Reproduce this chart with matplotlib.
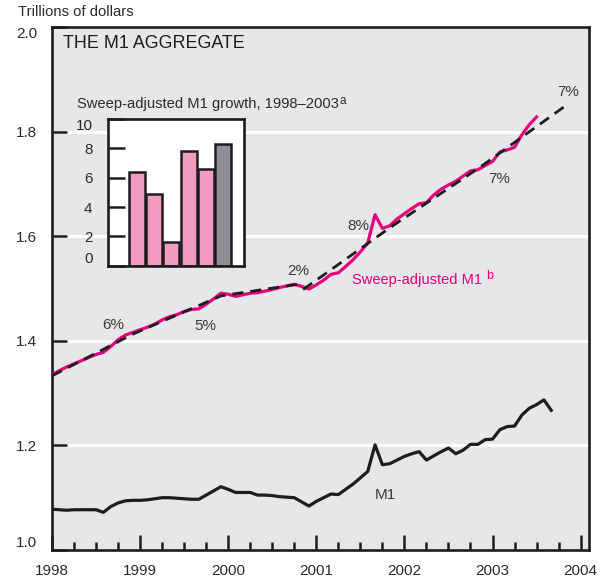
import numpy as np
import matplotlib
matplotlib.use("Agg")
import matplotlib.pyplot as plt

plt.rcParams['font.family'] = ['Liberation Sans', 'DejaVu Sans']
plt.rcParams['lines.scale_dashes'] = False

# ---------------- data ----------------
start_year = 1998
m1_values = [
    1.078, 1.077, 1.076, 1.077, 1.077, 1.077, 1.077, 1.072, 1.083, 1.090, 1.094, 1.095,   # 1998
    1.095, 1.096, 1.098, 1.100, 1.100, 1.099, 1.098, 1.097, 1.097, 1.105, 1.113, 1.121,   # 1999
    1.116, 1.110, 1.110, 1.110, 1.105, 1.105, 1.104, 1.102, 1.101, 1.100, 1.092, 1.084,   # 2000
    1.093, 1.100, 1.107, 1.106, 1.116, 1.126, 1.138, 1.150, 1.201, 1.163, 1.165, 1.172,   # 2001
    1.179, 1.184, 1.188, 1.172, 1.180, 1.188, 1.195, 1.184, 1.191, 1.202, 1.202, 1.211,   # 2002
    1.212, 1.230, 1.236, 1.237, 1.258, 1.271, 1.278, 1.287, 1.267,                        # 2003
]
sweep_values = [
    1.335, 1.343, 1.350, 1.356, 1.362, 1.368, 1.374, 1.378, 1.389, 1.402, 1.411, 1.416,   # 1998
    1.421, 1.426, 1.432, 1.440, 1.446, 1.450, 1.456, 1.460, 1.461, 1.470, 1.480, 1.491,   # 1999
    1.489, 1.485, 1.488, 1.491, 1.492, 1.495, 1.498, 1.502, 1.505, 1.508, 1.504, 1.499,   # 2000
    1.507, 1.516, 1.527, 1.530, 1.542, 1.555, 1.570, 1.587, 1.641, 1.615, 1.620, 1.633,   # 2001
    1.643, 1.653, 1.662, 1.664, 1.679, 1.690, 1.698, 1.705, 1.715, 1.725, 1.727, 1.735,   # 2002
    1.743, 1.761, 1.765, 1.770, 1.794, 1.813, 1.828,                                      # 2003
]
trend_years_a = [1998.0, 1998.92, 1999.92, 2000.83]
trend_values_a = [1.333, 1.413, 1.486, 1.509]
trend_years_b = [2000.85, 2001.85, 2002.85, 2003.85]
trend_values_b = [1.498, 1.618, 1.731, 1.852]

growth_labels = ['6%', '5%', '2%', '8%', '7%', '7%']
growth_label_x = [1998.70, 1999.74, 2000.80, 2001.48, 2003.08, 2003.86]
growth_label_y = [1.430, 1.429, 1.534, 1.620, 1.709, 1.876]

bar_years = ['1998', '1999', '2000', '2001', '2002', '2003']
bar_values = [6.4, 4.9, 1.6, 7.8, 6.6, 8.3]
bar_colors = ['#F39AC4'] * 5 + ['#8F9094']

year_ticks = [1998, 1999, 2000, 2001, 2002, 2003, 2004]
y_ticks = [1.0, 1.2, 1.4, 1.6, 1.8, 2.0]
inset_ticks = [0, 2, 4, 6, 8, 10]

# ---------------- figure ----------------
W, H = 605, 581
fig = plt.figure(figsize=(W / 100, H / 100), dpi=100)
fig.patch.set_facecolor('white')

TXT = '#2b2b2b'
MAG = '#E6007E'
BLK = '#1f1c1d'
FS = 11

ax = fig.add_axes([52 / W, 1 - 550 / H, (589 - 52) / W, (550 - 27) / H])
ax.set_facecolor('#E6E7E8')
ax.set_xlim(1998.0, 2004.095)
ax.set_ylim(1.0, 2.0)

for g in [1.2, 1.4, 1.6, 1.8]:
    ax.axhline(g, color='white', lw=2.2, zorder=1)

m1_x = start_year + np.arange(len(m1_values)) / 12.0
sw_x = start_year + np.arange(len(sweep_values)) / 12.0
ax.plot(m1_x, m1_values, color=BLK, lw=2.3, zorder=3)
ax.plot(sw_x, sweep_values, color=MAG, lw=2.3, zorder=3)
ax.plot(trend_years_a, trend_values_a, color=BLK, lw=2.0, dashes=(8, 5), zorder=4)
ax.plot(trend_years_b, trend_values_b, color=BLK, lw=2.0, dashes=(8, 5), zorder=4)

for lab, x, y in zip(growth_labels, growth_label_x, growth_label_y):
    ax.text(x, y, lab, ha='center', va='center', fontsize=FS, color='#3a3a3a', zorder=5)

ax.text(2001.78, 1.105, 'M1', ha='center', va='center', fontsize=FS, color='#3a3a3a')
sweep_lab = ax.text(2001.40, 1.516, 'Sweep-adjusted M1', ha='left', va='center',
                    fontsize=10.5, color=MAG)

# ticks
ax.set_yticks(y_ticks)
ax.set_yticklabels(['%.1f' % v for v in y_ticks])
ax.set_xticks(year_ticks)
ax.set_xticklabels([str(y) for y in year_ticks])
ax.set_xticks([y + q / 4 for y in range(1998, 2004) for q in (1, 2, 3)], minor=True)
ax.tick_params(axis='y', direction='in', length=11, width=1.8, pad=10.5,
               labelsize=FS, labelcolor=TXT, color=BLK)
ax.tick_params(axis='x', which='major', direction='in', length=11, width=1.8, pad=10,
               labelsize=FS, labelcolor=TXT, color=BLK)
ax.tick_params(axis='x', which='minor', direction='in', length=5.5, width=1.8, color=BLK)
ytl = ax.get_yticklabels()
ytl[0].set_va('bottom')
ytl[-1].set_va('top')
for s in ax.spines.values():
    s.set_linewidth(1.9)
    s.set_color(BLK)

# texts in figure pixels
fig.text(18 / W, 1 - 12 / H, 'Trillions of dollars', ha='left', va='center',
         fontsize=10.7, color=TXT)
fig.text(63 / W, 1 - 43 / H, 'THE M1 AGGREGATE', ha='left', va='center',
         fontsize=12.9, color=BLK)
inset_title = fig.text(77 / W, 1 - 104 / H, 'Sweep-adjusted M1 growth, 1998\u20132003',
                       ha='left', va='center', fontsize=10.6, color=TXT)

# ---------------- inset ----------------
ins = fig.add_axes([107.7 / W, 1 - 265.7 / H, 136.6 / W, 146.7 / H])
ins.set_facecolor('white')
pos = np.arange(len(bar_values))
ins.bar(pos, bar_values, width=0.93, color=bar_colors, edgecolor=BLK, linewidth=1.8, zorder=2)
ins.set_xlim(-1.70, 6.24)
ins.set_ylim(0, 10)
ins.set_xticks([])
ins.set_yticks(inset_ticks)
ins.set_yticklabels([str(t) for t in inset_ticks])
ins.tick_params(axis='y', direction='in', length=12, width=1.8, pad=11,
                labelsize=FS, labelcolor=TXT, color=BLK)
tl = ins.get_yticklabels()
tl[0].set_va('bottom')
tl[-1].set_va('top')
for s in ins.spines.values():
    s.set_linewidth(1.9)
    s.set_color(BLK)

# superscripts placed just after their texts
fig.canvas.draw()
r = fig.canvas.get_renderer()
bb = inset_title.get_window_extent(r)
fig.text((bb.x1 + 1) / W, (bb.y1 - 4) / H, 'a', ha='left', va='center',
         fontsize=8.5, color=TXT)
bb2 = sweep_lab.get_window_extent(r)
fig.text((bb2.x1 + 5) / W, (bb2.y1 - 3) / H, 'b', ha='left', va='center',
         fontsize=9, color=MAG)

fig.savefig('out.png', dpi=100, facecolor='white')
